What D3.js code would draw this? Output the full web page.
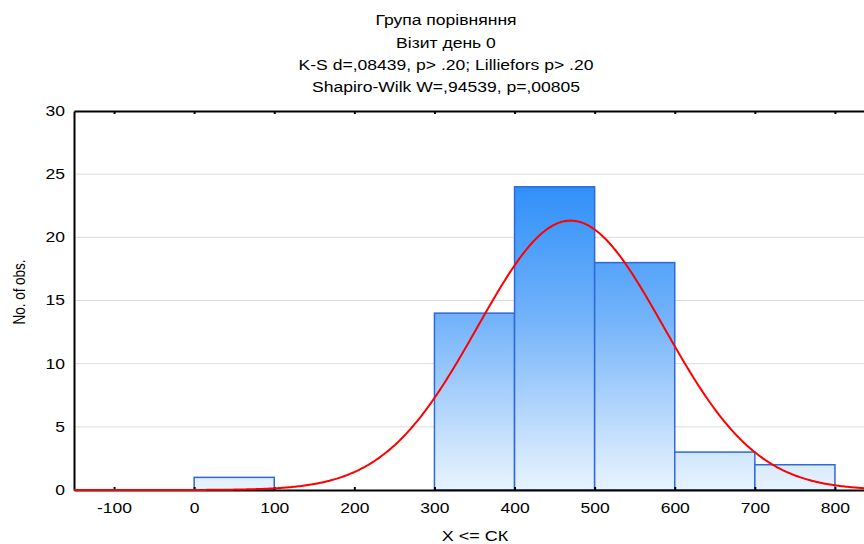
<!DOCTYPE html>
<html>
<head>
<meta charset="utf-8">
<script src="https://cdn.jsdelivr.net/npm/d3@7"></script>
<style>
  html, body { margin: 0; padding: 0; background: #fff; }
  svg { display: block; }
  text { font-family: "Liberation Sans", Arial, sans-serif; fill: #000; }
</style>
</head>
<body>
<svg id="chart" width="864" height="544"></svg>
<script>
// Histogram bins (lower edge, upper edge) and observed counts
const binStarts = [-100, 0, 100, 200, 300, 400, 500, 600, 700];
const binEnds   = [0, 100, 200, 300, 400, 500, 600, 700, 800];
const counts    = [0, 1, 0, 0, 14, 24, 18, 3, 2];

// Axis ticks
const xTicks = [-100, 0, 100, 200, 300, 400, 500, 600, 700, 800];
const yTicks = [0, 5, 10, 15, 20, 25, 30];

// Fitted normal curve parameters
const fitMean = 470;
const fitSd = 116;
const fitN = 62;
const binWidth = 100;

const titleLines = [
  "Група порівняння",
  "Візит день 0",
  "K-S d=,08439, p> .20; Lilliefors p> .20",
  "Shapiro-Wilk W=,94539, p=,00805"
];
const xLabel = "X <= СК";
const yLabel = "No. of obs.";

const svg = d3.select("#chart");
const plotLeft = 74, plotRight = 875, plotTop = 111, plotBottom = 490;

const x = d3.scaleLinear().domain([-150, 850]).range([plotLeft, plotRight]);
const y = d3.scaleLinear().domain([0, 30]).range([plotBottom, plotTop]);

// Vertical colour ramp for the bars, tied to the count scale
const defs = svg.append("defs");
const grad = defs.append("linearGradient")
  .attr("id", "barFill")
  .attr("gradientUnits", "userSpaceOnUse")
  .attr("x1", 0).attr("x2", 0)
  .attr("y1", y(24)).attr("y2", y(0));
[[0, "#3090f9"], [0.42, "#70b1fa"], [0.875, "#d0e6fc"], [1, "#e8f3fe"]].forEach(([o, c]) =>
  grad.append("stop").attr("offset", o).attr("stop-color", c));

// Horizontal grid lines
svg.append("g").selectAll("line")
  .data(yTicks.filter(d => d > 0 && d < 30))
  .join("line")
  .attr("x1", plotLeft).attr("x2", plotRight)
  .attr("y1", d => y(d)).attr("y2", d => y(d))
  .attr("stroke", "#dcdcdc").attr("stroke-width", 1);

// Bars
svg.append("g").selectAll("rect")
  .data(counts.map((c, i) => ({ c, x0: binStarts[i], x1: binEnds[i] })))
  .join("rect")
  .attr("x", d => x(d.x0))
  .attr("width", d => x(d.x1) - x(d.x0))
  .attr("y", d => y(d.c))
  .attr("height", d => y(0) - y(d.c))
  .attr("fill", "url(#barFill)")
  .attr("stroke", "#2d6ad8")
  .attr("stroke-width", 1.5);

// Stretch helper for horizontal text
function stretchText(sel, k) {
  sel.each(function () {
    const t = d3.select(this);
    const tx = +t.attr("x") || 0;
    t.attr("x", tx / k).attr("transform", `scale(${k},1)`);
  });
}

// Axes (plain hyphen for negative numbers)
const plainFmt = d => String(d);
const xAxisBottom = svg.append("g")
  .attr("transform", `translate(0,${plotBottom})`)
  .call(d3.axisBottom(x).tickValues(xTicks).tickFormat(plainFmt)
    .tickSize(-3).tickPadding(13).tickSizeOuter(0));
xAxisBottom.selectAll("text").attr("font-size", 14);
stretchText(xAxisBottom.selectAll("text"), 1.25);

const xAxisTop = svg.append("g")
  .attr("transform", `translate(0,${plotTop})`)
  .call(d3.axisTop(x).tickValues(xTicks).tickSize(-3).tickFormat("").tickSizeOuter(0));

const yAxis = svg.append("g")
  .attr("transform", `translate(${plotLeft},0)`)
  .call(d3.axisLeft(y).tickValues(yTicks).tickFormat(plainFmt)
    .tickSize(0).tickPadding(9).tickSizeOuter(0));
yAxis.selectAll("text").attr("font-size", 14);
stretchText(yAxis.selectAll("text"), 1.25);

[xAxisBottom, xAxisTop, yAxis].forEach(g => {
  g.selectAll(".domain").attr("stroke", "#000").attr("stroke-width", 2);
  g.selectAll(".tick line").attr("stroke", "#000").attr("stroke-width", 2);
  g.attr("font-family", null);
});

// Right frame edge
svg.append("line")
  .attr("x1", plotRight).attr("x2", plotRight).attr("y1", plotTop).attr("y2", plotBottom)
  .attr("stroke", "#000").attr("stroke-width", 2);

// Fitted normal curve (expected counts per bin)
const curveXs = d3.range(-150, 850.5, 2);
const expected = v => fitN * binWidth / (fitSd * Math.sqrt(2 * Math.PI)) *
  Math.exp(-0.5 * ((v - fitMean) / fitSd) ** 2);
svg.append("path")
  .datum(curveXs)
  .attr("d", d3.line().x(d => x(d)).y(d => y(expected(d))))
  .attr("fill", "none")
  .attr("stroke", "#ff0000")
  .attr("stroke-width", 2);

// Titles
const titleY = [25, 48, 70, 92];
titleLines.forEach((t, i) => {
  svg.append("text")
    .attr("transform", `translate(446,${titleY[i]}) scale(1.17,1)`)
    .attr("text-anchor", "middle")
    .attr("font-size", 15)
    .text(t);
});

// Axis titles
svg.append("text")
  .attr("transform", `translate(475,541) scale(1.2,1)`)
  .attr("text-anchor", "middle")
  .attr("font-size", 15)
  .text(xLabel);

svg.append("text")
  .attr("transform", `translate(25,292) scale(1.25,1) rotate(-90)`)
  .attr("text-anchor", "middle")
  .attr("font-size", 13.5)
  .text(yLabel);
</script>
</body>
</html>
